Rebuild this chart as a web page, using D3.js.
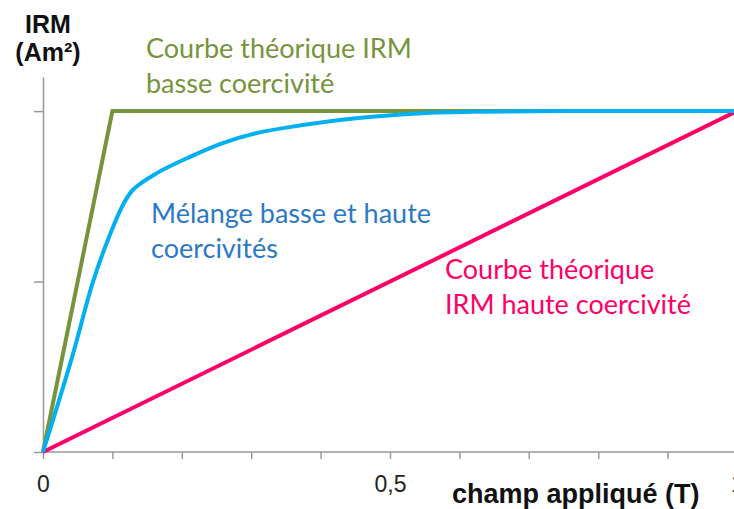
<!DOCTYPE html>
<html>
<head>
<meta charset="utf-8">
<script src="https://d3js.org/d3.v7.min.js"></script>
<style>
  body { margin: 0; background: #fff; }
  .axis path, .axis line { stroke: #999; stroke-width: 1.5; }
  .note { font-family: Lato, "Open Sans", sans-serif; font-size: 27px; }
  .title { font-family: "Liberation Sans", Arial, sans-serif; font-weight: bold; fill: #111; }
</style>
</head>
<body>
<script>
var width = 734, height = 509;

// x ticks every 0.1 T, only three labelled
var xTicks = [0, 0.1, 0.2, 0.3, 0.4, 0.5, 0.6, 0.7, 0.8, 0.9, 1];
var xLabels = {"0": "0", "0.5": "0,5", "1": "1"};
var yTicks = [0, 0.5, 1];

// curves (field in T, IRM normalised)
var basseX = [0, 0.1, 1];
var basseY = [0, 1, 1];

var hauteX = [0, 1];
var hauteY = [0, 1];

var melangeX = [0, 0.042, 0.072, 0.095, 0.115, 0.13, 0.164, 0.211, 0.259, 0.307, 0.355, 0.451, 0.546, 0.618, 0.75, 1];
var melangeY = [0, 0.279, 0.499, 0.63, 0.724, 0.77, 0.818, 0.865, 0.906, 0.935, 0.953, 0.979, 0.994, 0.998, 1, 1];

var x = d3.scaleLinear().domain([0, 1]).range([43, 737]);
var y = d3.scaleLinear().domain([0, 1.1]).range([452, 77]);

var svg = d3.select("body")
  .append("svg")
  .attr("width", width)
  .attr("height", height);

// y axis: line to top, ticks without labels
var yAxis = svg.append("g")
  .attr("class", "axis")
  .attr("transform", "translate(" + x(0) + ",0)")
  .call(d3.axisLeft(y).tickValues(yTicks).tickSize(9).tickSizeOuter(0).tickFormat(""));

var xAxis = svg.append("g")
  .attr("class", "axis")
  .attr("transform", "translate(0," + y(0) + ")")
  .call(d3.axisBottom(x).tickValues(xTicks).tickSize(7).tickSizeOuter(0)
    .tickFormat(d => xLabels[String(d)] || ""));

xAxis.select(".domain").attr("d", "M" + x(0) + ",0H" + width);
xAxis.selectAll("text")
  .attr("dy", "0").attr("y", 40)
  .style("font-family", "'Liberation Sans', Arial, sans-serif")
  .style("font-size", "23px")
  .style("fill", "#222");

function pts(xs, ys){
  return xs.map((v, i) => [x(v), y(ys[i])]);
}

var straight = d3.line();
var smooth = d3.line().curve(d3.curveCatmullRom.alpha(0.5));

svg.append("path")
  .attr("d", straight(pts(hauteX, hauteY)))
  .attr("fill", "none")
  .attr("stroke", "#ff0066")
  .attr("stroke-width", 4);

svg.append("path")
  .attr("d", straight(pts(basseX, basseY)))
  .attr("fill", "none")
  .attr("stroke", "#77933c")
  .attr("stroke-width", 4);

svg.append("path")
  .attr("d", smooth(pts(melangeX, melangeY)))
  .attr("fill", "none")
  .attr("stroke", "#00b0f0")
  .attr("stroke-width", 4);

// annotations
function note(lines, px, py, color){
  var t = svg.append("text").attr("class", "note").attr("fill", color);
  lines.forEach(function(s, i){
    t.append("tspan").attr("x", px).attr("y", py + i * 35).text(s);
  });
}
note(["Courbe théorique IRM", "basse coercivité"], 146, 58, "#77933c");
note(["Mélange basse et haute", "coercivités"], 151, 223, "#2c78c4");
note(["Courbe théorique", "IRM haute coercivité"], 445, 279, "#ff0066");

// axis titles
svg.append("text").attr("class", "title")
  .attr("x", 48).attr("y", 33).attr("text-anchor", "middle")
  .style("font-size", "25px").text("IRM");
svg.append("text").attr("class", "title")
  .attr("x", 48).attr("y", 61).attr("text-anchor", "middle")
  .style("font-size", "25px").text("(Am²)");

svg.append("text").attr("class", "title")
  .attr("x", 452).attr("y", 503)
  .style("font-size", "27px").text("champ appliqué (T)");
</script>
</body>
</html>
